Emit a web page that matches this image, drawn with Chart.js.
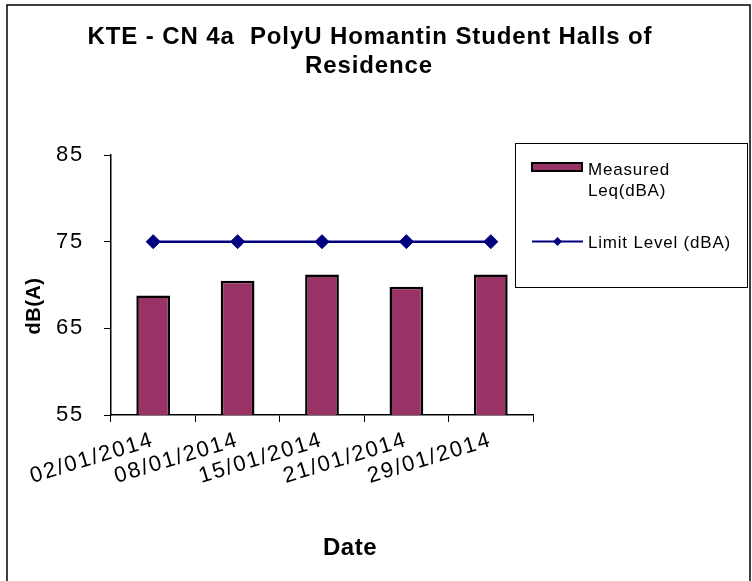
<!DOCTYPE html>
<html>
<head>
<meta charset="utf-8">
<script src="https://cdn.jsdelivr.net/npm/chart.js@4"></script>
<style>
  html, body { margin: 0; padding: 0; background: #fff; }
  #wrap { width: 752px; height: 581px; position: relative; }
</style>
</head>
<body>
<div id="wrap"><canvas id="c" width="752" height="581"></canvas></div>
<script>
const categories = ['02/01/2014', '08/01/2014', '15/01/2014', '21/01/2014', '29/01/2014'];
const measuredLeq = [68.8, 70.5, 71.2, 69.8, 71.2];
const limitLevel = [75, 75, 75, 75, 75];
const yTickValues = [55, 65, 75, 85];
const titleLines = ['KTE - CN 4a  PolyU Homantin Student Halls of', 'Residence'];
const yAxisTitle = 'dB(A)';
const xAxisTitle = 'Date';
const legendMeasured = ['Measured', 'Leq(dBA)'];
const legendLimit = 'Limit Level (dBA)';

const BAR_COLOR = '#993366';
const LINE_COLOR = '#000080';
const FONT = 'Arial, "Liberation Sans", sans-serif';

const decorPlugin = {
  id: 'decor',
  beforeDraw(chart) {
    const ctx = chart.ctx;
    ctx.save();
    ctx.fillStyle = '#fff';
    ctx.fillRect(0, 0, chart.width, chart.height);
    ctx.strokeStyle = '#000';
    ctx.lineWidth = 1.5;
    ctx.strokeRect(7, 5, 743, 590);
    ctx.restore();
    // wider tracking for axis tick labels, as in the reference
    ctx.letterSpacing = '1.8px';
  },
  afterDraw(chart) {
    const ctx = chart.ctx;
    ctx.save();
    ctx.fillStyle = '#000';
    // Title
    ctx.font = 'bold 24px ' + FONT;
    ctx.letterSpacing = '0.9px';
    ctx.textAlign = 'center';
    ctx.textBaseline = 'alphabetic';
    ctx.fillText(titleLines[0], 370, 44);
    ctx.fillText(titleLines[1], 369, 73);
    // Y axis title
    ctx.letterSpacing = '0.5px';
    ctx.save();
    ctx.translate(34, 306);
    ctx.rotate(-Math.PI / 2);
    ctx.font = 'bold 20px ' + FONT;
    ctx.textBaseline = 'middle';
    ctx.fillText(yAxisTitle, 0, 0);
    ctx.restore();
    // X axis title
    ctx.font = 'bold 24px ' + FONT;
    ctx.textAlign = 'center';
    ctx.fillText(xAxisTitle, 350, 555);

    // Legend
    ctx.letterSpacing = '0.8px';
    ctx.strokeStyle = '#000';
    ctx.lineWidth = 1;
    ctx.strokeRect(515.5, 143.5, 232, 144);
    ctx.fillStyle = BAR_COLOR;
    ctx.fillRect(532, 163, 50, 8);
    ctx.lineWidth = 2;
    ctx.strokeRect(532, 163, 50, 8);
    ctx.fillStyle = '#000';
    ctx.font = '17px ' + FONT;
    ctx.textAlign = 'left';
    ctx.fillText(legendMeasured[0], 588, 175);
    ctx.fillText(legendMeasured[1], 588, 196);
    ctx.strokeStyle = LINE_COLOR;
    ctx.lineWidth = 2;
    ctx.beginPath();
    ctx.moveTo(532, 241.5);
    ctx.lineTo(583, 241.5);
    ctx.stroke();
    ctx.fillStyle = LINE_COLOR;
    ctx.beginPath();
    ctx.moveTo(557.5, 237);
    ctx.lineTo(562, 241.5);
    ctx.lineTo(557.5, 246);
    ctx.lineTo(553, 241.5);
    ctx.closePath();
    ctx.fill();
    ctx.fillStyle = '#000';
    ctx.fillText(legendLimit, 588, 248);
    ctx.restore();
  }
};

new Chart(document.getElementById('c'), {
  data: {
    labels: categories,
    datasets: [
      {
        type: 'line',
        label: legendLimit,
        data: limitLevel,
        borderColor: LINE_COLOR,
        backgroundColor: LINE_COLOR,
        borderWidth: 2.5,
        pointStyle: 'rectRot',
        pointRadius: 7,
        pointBackgroundColor: LINE_COLOR,
        pointBorderColor: LINE_COLOR,
        pointBorderWidth: 1,
        tension: 0,
        order: 0
      },
      {
        type: 'bar',
        label: legendMeasured.join(' '),
        data: measuredLeq,
        backgroundColor: BAR_COLOR,
        borderColor: '#000',
        borderWidth: 2.5,
        categoryPercentage: 1,
        barPercentage: 0.4,
        order: 1
      }
    ]
  },
  options: {
    responsive: false,
    animation: false,
    devicePixelRatio: 1,
    layout: { padding: { top: 155, right: 219, bottom: 0, left: 0 } },
    plugins: {
      legend: { display: false },
      title: { display: false },
      tooltip: { enabled: false }
    },
    scales: {
      x: {
        type: 'category',
        offset: true,
        grid: { display: true, drawOnChartArea: false, offset: true, color: '#000', tickLength: 7, lineWidth: 1 },
        border: { display: true, color: '#000', width: 1.5 },
        ticks: {
          color: '#000',
          font: { family: FONT, size: 22 },
          minRotation: 17,
          maxRotation: 17,
          padding: 5,
          autoSkip: false
        },
        afterFit(scale) { scale.height = 166; }
      },
      y: {
        min: 55,
        max: 85,
        afterBuildTicks(scale) { scale.ticks = yTickValues.map(v => ({ value: v })); },
        grid: { display: true, drawOnChartArea: false, color: '#000', tickLength: 7, lineWidth: 1 },
        border: { display: true, color: '#000', width: 1.5 },
        ticks: {
          color: '#000',
          font: { family: FONT, size: 22 },
          padding: 20
        },
        afterFit(scale) { scale.width = 111; }
      }
    }
  },
  plugins: [decorPlugin]
});
</script>
</body>
</html>
